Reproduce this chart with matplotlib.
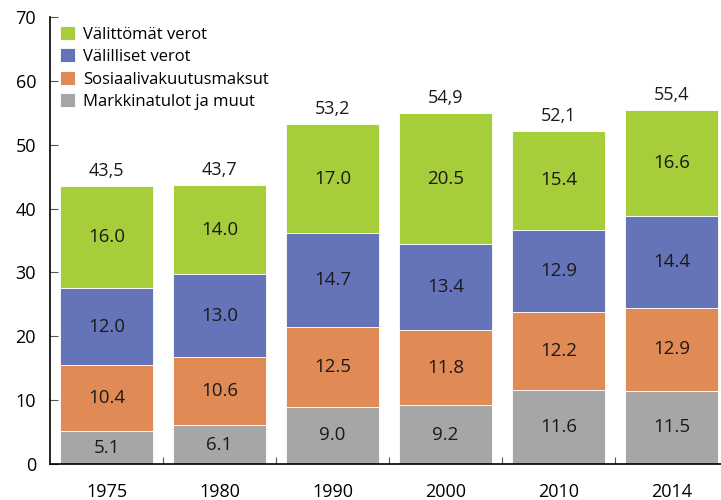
import matplotlib.pyplot as plt
import numpy as np

years = ["1975", "1980", "1990", "2000", "2010", "2014"]
markkina = [5.1, 6.1, 9.0, 9.2, 11.6, 11.5]
sosiaali = [10.4, 10.6, 12.5, 11.8, 12.2, 12.9]
valilliset = [12.0, 13.0, 14.7, 13.4, 12.9, 14.4]
valittomat = [16.0, 14.0, 17.0, 20.5, 15.4, 16.6]
totals = ["43,5", "43,7", "53,2", "54,9", "52,1", "55,4"]

series = [
    ("Markkinatulot ja muut", markkina, "#a6a6a6"),
    ("Sosiaalivakuutusmaksut", sosiaali, "#e08a55"),
    ("Välilliset verot", valilliset, "#6574b8"),
    ("Välittömät verot", valittomat, "#a6cd3a"),
]

plt.rcParams["font.family"] = ["Open Sans", "DejaVu Sans"]

fig = plt.figure(figsize=(7.21, 5.0), dpi=100)
ax = fig.add_axes([50 / 721, 36 / 500, 678 / 721, 447 / 500])

x = np.arange(len(years))
bottom = np.zeros(len(years))
handles = []
for name, vals, col in series:
    vals = np.array(vals)
    b = ax.bar(x, vals, 0.83, bottom=bottom, color=col, edgecolor="white",
               linewidth=0.6, label=name)
    handles.append(b)
    for xi, v, bo in zip(x, vals, bottom):
        ax.text(xi, bo + v / 2, "%.1f" % v, ha="center", va="center",
                fontsize=13.5, color="#1a1a1a")
    bottom += vals

for xi, top, t in zip(x, bottom, totals):
    ax.text(xi, top + 1.0, t, ha="center", va="bottom", fontsize=13,
            color="#1a1a1a")

ax.set_xlim(-0.5, 5.5)
ax.set_ylim(0, 70)
ax.set_yticks(range(0, 71, 10))
ax.set_xticks(x + 0.5, minor=False)
ax.set_xticklabels([])
ax.set_xticks(x, minor=True)
ax.set_xticklabels(years, minor=True)
ax.tick_params(axis="x", which="major", direction="in", length=5,
               color="#555555")
ax.tick_params(axis="x", which="minor", length=0, pad=14, labelsize=13)
ax.tick_params(axis="y", direction="in", length=6, color="#555555",
               labelsize=13, pad=10)
for s in ["top", "right"]:
    ax.spines[s].set_visible(False)
for s in ["left", "bottom"]:
    ax.spines[s].set_linewidth(1.2)

ax.legend(handles[::-1], [h.get_label() for h in handles[::-1]],
          loc="upper left", bbox_to_anchor=(-0.005, 1.01), frameon=False,
          fontsize=12, handlelength=0.9, handleheight=0.9,
          handletextpad=0.5, labelspacing=0.35, borderaxespad=0.4)

fig.savefig("out.png", dpi=100)
